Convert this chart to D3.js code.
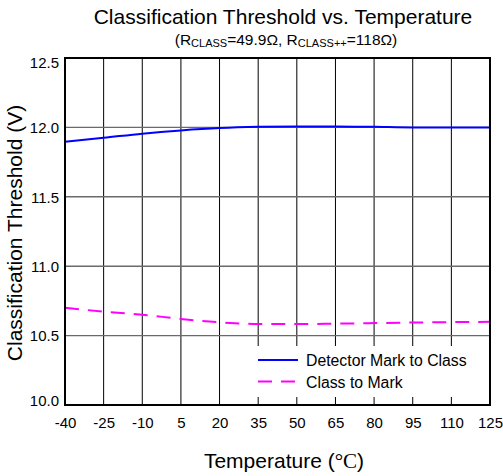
<!DOCTYPE html>
<html>
<head>
<meta charset="utf-8">
<script src="https://cdn.jsdelivr.net/npm/d3@7"></script>
<style>
  html, body { margin: 0; padding: 0; background: #fff; }
  svg { display: block; font-family: "Liberation Sans", Arial, sans-serif; }
</style>
</head>
<body>
<svg id="chart" width="503" height="476"></svg>
<script>
// Temperature points (°C) and measured thresholds (V)
const temperatures = [-40, -25, -10, 5, 20, 35, 50, 65, 80, 95, 110, 125];
const detectorMarkToClass = [11.897, 11.925, 11.955, 11.978, 11.995, 12.004, 12.007, 12.007, 12.004, 12.0, 12.0, 12.0];
const classToMark = [10.70, 10.673, 10.651, 10.62, 10.596, 10.584, 10.583, 10.586, 10.59, 10.594, 10.597, 10.599];
const yTicks = [10.0, 10.5, 11.0, 11.5, 12.0, 12.5];
const seriesNames = ["Detector Mark to Class", "Class to Mark"];

const FONT = "'Liberation Sans', Arial, sans-serif";
const svg = d3.select("#chart");
const plotLeft = 65, plotRight = 490, plotTop = 58, plotBottom = 405;

const x = d3.scaleLinear().domain([-40, 125]).range([plotLeft, plotRight]);
const y = d3.scaleLinear().domain([10, 12.5]).range([plotBottom, plotTop]);

// Grid
svg.append("g").selectAll("line").data(temperatures.slice(1, -1)).join("line")
  .attr("x1", d => x(d)).attr("x2", d => x(d))
  .attr("y1", plotTop).attr("y2", plotBottom)
  .attr("stroke", "#000").attr("stroke-width", 1);
svg.append("g").selectAll("line").data(yTicks.slice(1, -1)).join("line")
  .attr("x1", plotLeft).attr("x2", plotRight)
  .attr("y1", d => y(d)).attr("y2", d => y(d))
  .attr("stroke", "#6a6a6a").attr("stroke-width", 1.4);

// Legend background hides the grid behind it
svg.append("rect").attr("x", 250).attr("y", 346).attr("width", plotRight - 250).attr("height", 51).attr("fill", "#fff");

// Series
const line = d3.line().x((d, i) => x(temperatures[i])).y(d => y(d)).curve(d3.curveMonotoneX);
svg.append("path").datum(detectorMarkToClass).attr("d", line)
  .attr("fill", "none").attr("stroke", "#0000ff").attr("stroke-width", 2);
svg.append("path").datum(classToMark).attr("d", line)
  .attr("fill", "none").attr("stroke", "#ff00ff").attr("stroke-width", 2)
  .attr("stroke-dasharray", "14,9");

// Frame
svg.append("rect").attr("x", plotLeft).attr("y", plotTop)
  .attr("width", plotRight - plotLeft).attr("height", plotBottom - plotTop)
  .attr("fill", "none").attr("stroke", "#000").attr("stroke-width", 2);

// Axes (labels only, plain hyphen for negatives)
const xAxis = d3.axisBottom(x).tickValues(temperatures).tickSize(0).tickPadding(0).tickFormat(d => String(d));
const gx = svg.append("g").attr("transform", `translate(0,${plotBottom})`).call(xAxis);
gx.select(".domain").remove();
gx.selectAll("text").attr("dy", null).attr("y", 23)
  .attr("font-size", 15).attr("fill", "#000").attr("font-family", FONT);

const yAxis = d3.axisLeft(y).tickValues(yTicks).tickSize(0).tickPadding(6).tickFormat(d3.format(".1f"));
const gy = svg.append("g").attr("transform", `translate(${plotLeft},0)`).call(yAxis);
gy.select(".domain").remove();
gy.selectAll("text").attr("font-size", 15).attr("fill", "#000").attr("font-family", FONT)
  .attr("dy", d => d === 12.5 ? "0.62em" : d === 10 ? "0.05em" : "0.35em");

// Titles
svg.append("text").attr("x", 283).attr("y", 24).attr("text-anchor", "middle")
  .attr("font-size", 21).attr("font-family", FONT).text("Classification Threshold vs. Temperature");
const sub = svg.append("text").attr("x", 286).attr("y", 45).attr("text-anchor", "middle")
  .attr("font-size", 15.5).attr("font-family", FONT);
sub.append("tspan").text("(R");
sub.append("tspan").attr("font-size", 11).attr("dy", 2).text("CLASS");
sub.append("tspan").attr("dy", -2).text("=49.9Ω, R");
sub.append("tspan").attr("font-size", 11).attr("dy", 2).text("CLASS++");
sub.append("tspan").attr("dy", -2).text("=118Ω)");

const xl = svg.append("text").attr("x", 284).attr("y", 468).attr("text-anchor", "middle")
  .attr("font-size", 21).attr("font-family", FONT);
xl.append("tspan").text("Temperature (");
xl.append("tspan").attr("font-family", "'Liberation Serif', 'Times New Roman', serif").text("°C");
xl.append("tspan").text(")");

svg.append("text").attr("transform", `translate(22,233) rotate(-90)`)
  .attr("text-anchor", "middle").attr("font-size", 21).attr("font-family", FONT)
  .text("Classification Threshold (V)");

// Legend
const legend = svg.append("g");
const styles = [{ c: "#0000ff", dash: null }, { c: "#ff00ff", dash: "14,9" }];
seriesNames.forEach((name, i) => {
  const ly = 360 + i * 21.5;
  legend.append("line").attr("x1", 258).attr("x2", 298).attr("y1", ly).attr("y2", ly)
    .attr("stroke", styles[i].c).attr("stroke-width", 2).attr("stroke-dasharray", styles[i].dash);
  legend.append("text").attr("x", 306).attr("y", ly + 6).attr("font-size", 15.8)
    .attr("font-family", FONT).text(name);
});
</script>
</body>
</html>
